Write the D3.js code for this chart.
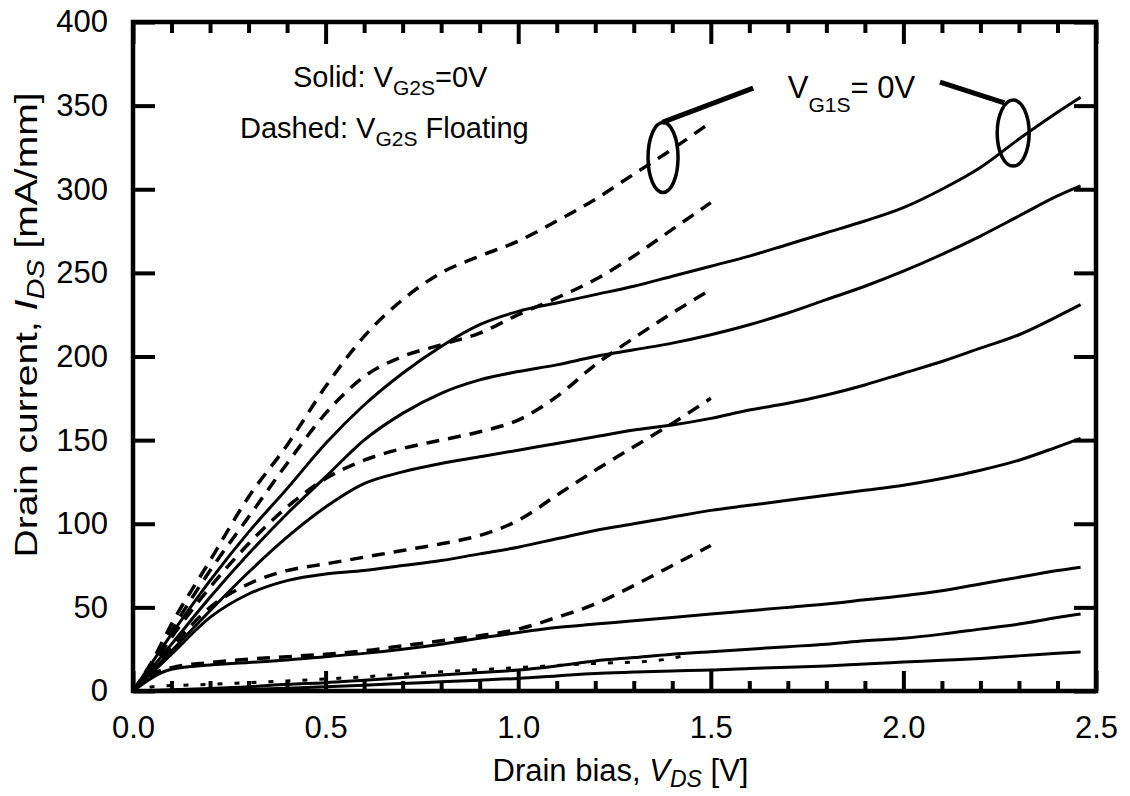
<!DOCTYPE html>
<html>
<head>
<meta charset="utf-8">
<script src="https://cdn.jsdelivr.net/npm/d3@7"></script>
<style>
  html, body { margin: 0; padding: 0; background: #fff; }
  svg { display: block; }
  text { font-family: "Liberation Sans", Arial, Helvetica, sans-serif; fill: #000; }
</style>
</head>
<body>
<svg id="chart" width="1130" height="796"></svg>
<script>
// Drain bias grid for the V_G2S = 0 V sweeps (solid curves)
const solidV = [0, 0.1, 0.2, 0.3, 0.4, 0.5, 0.6, 0.7, 0.8, 0.9, 1.0, 1.1, 1.2, 1.3,
                1.4, 1.5, 1.6, 1.7, 1.8, 1.9, 2.0, 2.1, 2.2, 2.3, 2.4, 2.46];
// Drain current [mA/mm], one array per V_G1S step, top to bottom
const solid1 = [0, 34, 66, 95, 121, 148, 171, 190, 206, 219, 227, 232, 237, 242, 248, 254, 260, 267, 274, 281, 289, 300, 313, 330, 346, 355];
const solid2 = [0, 28, 56, 82, 106, 128, 150, 166, 178, 186, 191, 195, 200, 204, 208, 213, 219, 226, 234, 242, 251, 261, 272, 284, 296, 302];
const solid3 = [0, 24, 48, 71, 92, 110, 124, 131, 136, 140, 144, 148, 152, 156, 159, 163, 168, 172, 177, 183, 190, 197, 205, 213, 224, 231];
const solid4 = [0, 22, 44, 58, 66, 70, 72, 75, 78, 82, 86, 91, 96, 100, 104, 108, 111, 114, 117, 120, 123, 127, 132, 138, 146, 151];
const solid5 = [0, 13, 15.5, 17, 18.5, 20.5, 22.5, 25, 28, 31.5, 35, 38, 40, 42, 44, 46, 48, 50, 52, 54.5, 57, 60, 64, 68, 72, 74];
const solid6 = [0, 0.8, 1.5, 2.5, 4, 5, 6.5, 8, 9.5, 11, 12.5, 15, 18, 20, 22, 23.5, 25, 26.5, 28, 30, 31.5, 34, 37, 40, 44, 46];
const solid7 = [0, 0.2, 0.4, 1, 1.6, 2.5, 3.5, 4.5, 5.5, 6.5, 7.5, 9, 10.5, 11.3, 12, 12.5, 13.5, 14.2, 15, 16.2, 17.3, 18.4, 19.5, 21, 22.5, 23.3];

// Drain bias grid for the floating V_G2S sweeps (dashed curves)
const dashedV = [0, 0.05, 0.1, 0.2, 0.3, 0.4, 0.5, 0.6, 0.7, 0.8, 0.9, 1.0, 1.1, 1.2, 1.3, 1.4, 1.5];
const dashed1 = [0, 18, 40, 78, 116, 147, 182, 212, 234, 250, 260, 269, 281, 294, 309, 324, 340];
const dashed2 = [0, 16, 36, 72, 104, 136, 166, 188, 200, 207, 214, 225, 235, 246, 260, 276, 292];
const dashed3 = [0, 15, 32, 62, 88, 110, 127, 138, 145, 150, 155, 162, 176, 195, 211, 226, 240];
const dashed4 = [0, 12, 26, 50, 64, 72, 76, 80, 84, 88, 93, 102, 117, 132, 146, 160, 175];
const dashed5 = [0, 10, 14, 17, 19, 20.5, 22, 24, 27, 30, 33, 37, 44, 52, 63, 75, 87];
// lowest floating-gate sweep, drawn with short dashes
const dottedV = [0, 0.05, 0.2, 0.4, 0.6, 0.8, 1.0, 1.2, 1.35, 1.45];
const dotted6 = [0, 2.5, 4, 6, 8.5, 11.5, 14, 16.5, 18, 22];

// Axis ticks
const xMajorTicks = [0, 0.5, 1.0, 1.5, 2.0, 2.5];
const xMinorTicks = d3.range(0, 25).map(i => i / 10).filter(v => Math.round(v * 10) % 5 !== 0);
const yMajorTicks = [0, 50, 100, 150, 200, 250, 300, 350, 400];

const svg = d3.select("#chart");
const margin = { left: 133, right: 34, top: 22, bottom: 105 };
const W = 1130, H = 796;

const x = d3.scaleLinear().domain([0, 2.5]).range([margin.left, W - margin.right]);
const y = d3.scaleLinear().domain([0, 400]).range([H - margin.bottom, margin.top]);

const line = d3.line().x(d => x(d[0])).y(d => y(d[1])).curve(d3.curveMonotoneX);
const zip = (xs, ys) => xs.map((v, i) => [v, ys[i]]);

const plot = svg.append("g");

// solid curves
[solid1, solid2, solid3, solid4, solid5, solid6, solid7].forEach(s => {
  plot.append("path").attr("d", line(zip(solidV, s)))
    .attr("fill", "none").attr("stroke", "#000").attr("stroke-width", 3)
    .attr("stroke-linejoin", "round");
});
// dashed curves
[dashed1, dashed2, dashed3, dashed4, dashed5].forEach(s => {
  plot.append("path").attr("d", line(zip(dashedV, s)))
    .attr("fill", "none").attr("stroke", "#000").attr("stroke-width", 3.5)
    .attr("stroke-dasharray", "13,9");
});
plot.append("path").attr("d", line(zip(dottedV, dotted6)))
  .attr("fill", "none").attr("stroke", "#000").attr("stroke-width", 3)
  .attr("stroke-dasharray", "5,12");

// axes with inward ticks
const fmtX = d3.format(".1f");
const gBottom = svg.append("g").attr("transform", `translate(0,${y(0)})`)
  .call(d3.axisBottom(x).tickValues(xMajorTicks).tickSizeInner(-20).tickSizeOuter(0)
    .tickPadding(25).tickFormat(fmtX));
const gBottomMinor = svg.append("g").attr("transform", `translate(0,${y(0)})`)
  .call(d3.axisBottom(x).tickValues(xMinorTicks).tickSizeInner(-10).tickSizeOuter(0).tickFormat(""));
const gTop = svg.append("g").attr("transform", `translate(0,${y(400)})`)
  .call(d3.axisTop(x).tickValues(xMajorTicks).tickSizeInner(-22).tickSizeOuter(0).tickFormat(""));
const gTopMinor = svg.append("g").attr("transform", `translate(0,${y(400)})`)
  .call(d3.axisTop(x).tickValues(xMinorTicks).tickSizeInner(-11).tickSizeOuter(0).tickFormat(""));
const gLeft = svg.append("g").attr("transform", `translate(${x(0)},0)`)
  .call(d3.axisLeft(y).tickValues(yMajorTicks).tickSizeInner(-22).tickSizeOuter(0).tickPadding(25));
const gRight = svg.append("g").attr("transform", `translate(${x(2.5)},0)`)
  .call(d3.axisRight(y).tickValues(yMajorTicks).tickSizeInner(-22).tickSizeOuter(0).tickFormat(""));

[gBottom, gBottomMinor, gTop, gTopMinor, gLeft, gRight].forEach(g => {
  g.select(".domain").remove();
  g.selectAll(".tick line").attr("stroke", "#000").attr("stroke-width", 4);
  g.selectAll(".tick text").attr("font-size", 31)
    .style("font-family", "'Liberation Sans', Arial, sans-serif");
});

// frame
svg.append("rect")
  .attr("x", x(0)).attr("y", y(400))
  .attr("width", x(2.5) - x(0)).attr("height", y(0) - y(400))
  .attr("fill", "none").attr("stroke", "#000").attr("stroke-width", 4.5);

// axis titles
const xt = svg.append("text").attr("x", (x(0) + x(2.5)) / 2 + 6).attr("y", 781)
  .attr("text-anchor", "middle").attr("font-size", 31);
xt.append("tspan").text("Drain bias, ");
xt.append("tspan").attr("font-style", "italic").text("V");
xt.append("tspan").attr("font-style", "italic").attr("font-size", 23).attr("dy", 6).text("DS");
xt.append("tspan").attr("dy", -6).text(" [V]");

const yt = svg.append("text")
  .attr("transform", `translate(37,325) rotate(-90)`)
  .attr("text-anchor", "middle").attr("font-size", 31)
  .attr("textLength", 465).attr("lengthAdjust", "spacingAndGlyphs");
yt.append("tspan").text("Drain current, ");
yt.append("tspan").attr("font-style", "italic").text("I");
yt.append("tspan").attr("font-style", "italic").attr("font-size", 23).attr("dy", 7).text("DS");
yt.append("tspan").attr("dy", -7).text(" [mA/mm]");

// legend notes
const n1 = svg.append("text").attr("x", 293).attr("y", 87).attr("font-size", 29);
n1.append("tspan").text("Solid: V");
n1.append("tspan").attr("font-size", 21).attr("dy", 8).text("G2S");
n1.append("tspan").attr("dy", -8).text("=0V");

const n2 = svg.append("text").attr("x", 240).attr("y", 138).attr("font-size", 29);
n2.append("tspan").text("Dashed: V");
n2.append("tspan").attr("font-size", 21).attr("dy", 8).text("G2S");
n2.append("tspan").attr("dy", -8).text(" Floating");

// V_G1S label with leaders to the two curve groups
const n3 = svg.append("text").attr("x", x(1.70)).attr("y", y(354.6)).attr("font-size", 31);
n3.append("tspan").text("V");
n3.append("tspan").attr("font-size", 21).attr("dy", 14).text("G1S");
n3.append("tspan").attr("dy", -14).text("= 0V");

const ann = svg.append("g").attr("stroke", "#000").attr("fill", "none");
ann.append("line").attr("x1", x(1.374)).attr("y1", y(340)).attr("x2", x(1.61)).attr("y2", y(360.5))
  .attr("stroke-width", 5);
ann.append("line").attr("x1", x(2.095)).attr("y1", y(364)).attr("x2", x(2.262)).attr("y2", y(351.6))
  .attr("stroke-width", 5);
ann.append("ellipse").attr("cx", x(1.376)).attr("cy", y(319)).attr("rx", 15).attr("ry", 35)
  .attr("stroke-width", 3.5);
ann.append("ellipse").attr("cx", x(2.285)).attr("cy", y(333.6)).attr("rx", 16).attr("ry", 33)
  .attr("stroke-width", 3.5);
</script>
</body>
</html>
